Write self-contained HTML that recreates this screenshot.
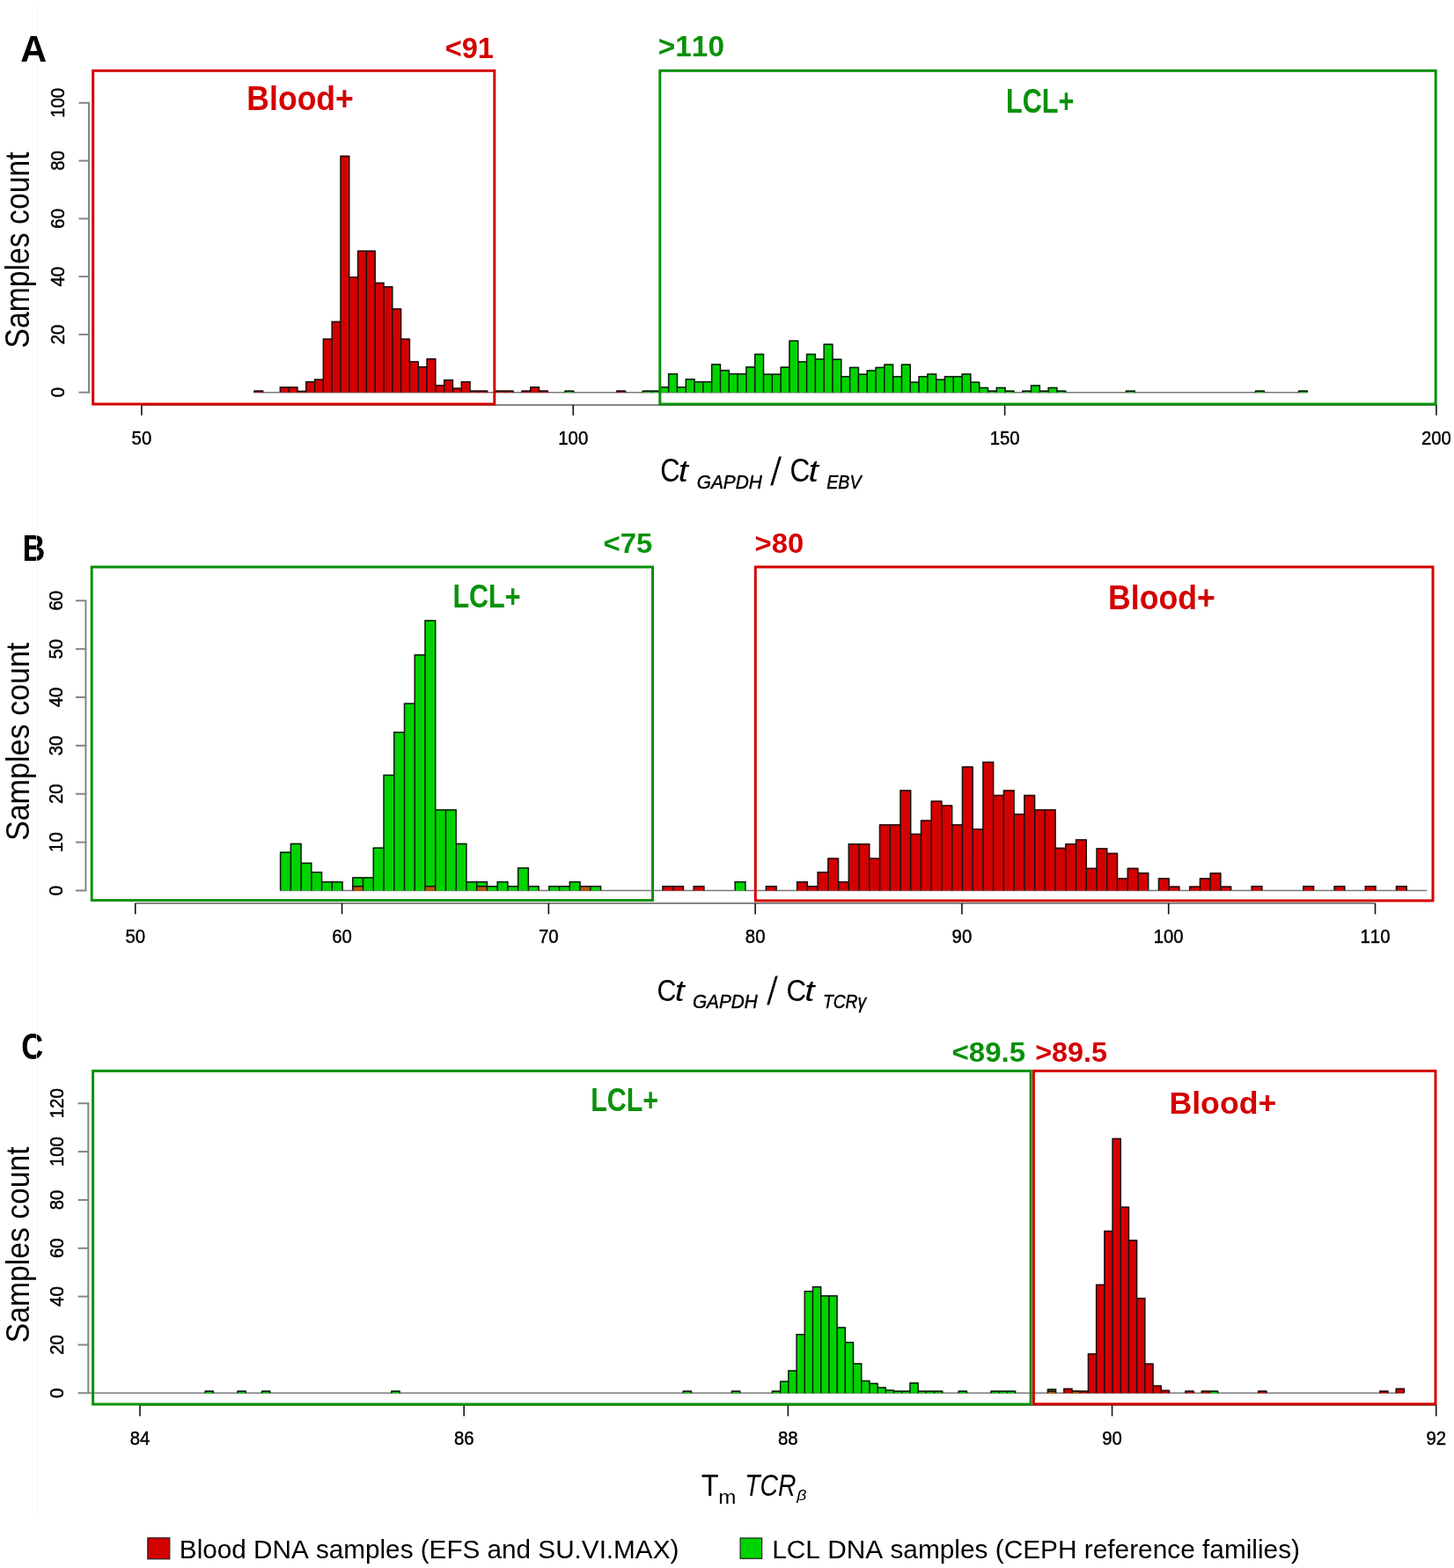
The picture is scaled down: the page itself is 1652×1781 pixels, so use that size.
<!DOCTYPE html>
<html><head><meta charset="utf-8"><title>Figure</title>
<style>html,body{margin:0;padding:0;background:#fff;}svg{display:block;}</style>
</head><body>
<svg width="1652" height="1781" viewBox="0 0 1652 1781">
<rect width="1652" height="1781" fill="#fff"/>
<line x1="42.5" y1="3" x2="42.5" y2="1720" stroke="#f7f7f7" stroke-width="1"/>
<g font-family="'Liberation Sans', Arial, sans-serif" style="font-kerning:none">
<line x1="101" y1="445.7" x2="101" y2="116.8" stroke="#858585" stroke-width="2"/>
<line x1="89.5" y1="445.7" x2="102" y2="445.7" stroke="#858585" stroke-width="2"/>
<line x1="89.5" y1="379.92" x2="102" y2="379.92" stroke="#858585" stroke-width="2"/>
<line x1="89.5" y1="314.14" x2="102" y2="314.14" stroke="#858585" stroke-width="2"/>
<line x1="89.5" y1="248.36" x2="102" y2="248.36" stroke="#858585" stroke-width="2"/>
<line x1="89.5" y1="182.58" x2="102" y2="182.58" stroke="#858585" stroke-width="2"/>
<line x1="89.5" y1="116.8" x2="102" y2="116.8" stroke="#858585" stroke-width="2"/>
<line x1="160.9" y1="460" x2="1631.95" y2="460" stroke="#858585" stroke-width="2"/>
<line x1="160.9" y1="460" x2="160.9" y2="471.8" stroke="#111" stroke-width="1.6"/>
<line x1="651.25" y1="460" x2="651.25" y2="471.8" stroke="#111" stroke-width="1.6"/>
<line x1="1141.6" y1="460" x2="1141.6" y2="471.8" stroke="#111" stroke-width="1.6"/>
<line x1="1631.95" y1="460" x2="1631.95" y2="471.8" stroke="#111" stroke-width="1.6"/>
<line x1="288.39" y1="445.7" x2="1484.85" y2="445.7" stroke="#7a7a7a" stroke-width="1.5"/>
<rect x="641.94" y="443.4" width="9.81" height="2.3" fill="#00d400"/>
<rect x="730.21" y="443.4" width="9.81" height="2.3" fill="#00d400"/>
<rect x="740.01" y="443.4" width="9.81" height="2.3" fill="#00d400"/>
<rect x="749.82" y="439.12" width="9.81" height="6.58" fill="#00d400"/>
<rect x="759.63" y="423.99" width="9.81" height="21.71" fill="#00d400"/>
<rect x="769.43" y="439.12" width="9.81" height="6.58" fill="#00d400"/>
<rect x="779.24" y="430.04" width="9.81" height="15.66" fill="#00d400"/>
<rect x="789.05" y="433" width="9.81" height="12.7" fill="#00d400"/>
<rect x="798.86" y="433" width="9.81" height="12.7" fill="#00d400"/>
<rect x="808.66" y="413.34" width="9.81" height="32.36" fill="#00d400"/>
<rect x="818.47" y="419.91" width="9.81" height="25.79" fill="#00d400"/>
<rect x="828.28" y="423.89" width="9.81" height="21.81" fill="#00d400"/>
<rect x="838.08" y="423.89" width="9.81" height="21.81" fill="#00d400"/>
<rect x="847.89" y="416.3" width="9.81" height="29.4" fill="#00d400"/>
<rect x="857.7" y="401.63" width="9.81" height="44.07" fill="#00d400"/>
<rect x="867.5" y="424.42" width="9.81" height="21.28" fill="#00d400"/>
<rect x="877.31" y="424.42" width="9.81" height="21.28" fill="#00d400"/>
<rect x="887.12" y="416.43" width="9.81" height="29.27" fill="#00d400"/>
<rect x="896.92" y="386.6" width="9.81" height="59.1" fill="#00d400"/>
<rect x="906.73" y="410.18" width="9.81" height="35.52" fill="#00d400"/>
<rect x="916.54" y="401.63" width="9.81" height="44.07" fill="#00d400"/>
<rect x="926.35" y="407.22" width="9.81" height="38.48" fill="#00d400"/>
<rect x="936.15" y="390.44" width="9.81" height="55.26" fill="#00d400"/>
<rect x="945.96" y="407.55" width="9.81" height="38.15" fill="#00d400"/>
<rect x="955.77" y="426.95" width="9.81" height="18.75" fill="#00d400"/>
<rect x="965.57" y="416.76" width="9.81" height="28.94" fill="#00d400"/>
<rect x="975.38" y="424.42" width="9.81" height="21.28" fill="#00d400"/>
<rect x="985.19" y="420.37" width="9.81" height="25.33" fill="#00d400"/>
<rect x="995" y="416.76" width="9.81" height="28.94" fill="#00d400"/>
<rect x="1004.8" y="413.47" width="9.81" height="32.23" fill="#00d400"/>
<rect x="1014.61" y="426.95" width="9.81" height="18.75" fill="#00d400"/>
<rect x="1024.42" y="413.47" width="9.81" height="32.23" fill="#00d400"/>
<rect x="1034.22" y="433.53" width="9.81" height="12.17" fill="#00d400"/>
<rect x="1044.03" y="426.95" width="9.81" height="18.75" fill="#00d400"/>
<rect x="1053.84" y="424.32" width="9.81" height="21.38" fill="#00d400"/>
<rect x="1063.64" y="430.57" width="9.81" height="15.13" fill="#00d400"/>
<rect x="1073.45" y="426.95" width="9.81" height="18.75" fill="#00d400"/>
<rect x="1083.26" y="426.95" width="9.81" height="18.75" fill="#00d400"/>
<rect x="1093.07" y="424.32" width="9.81" height="21.38" fill="#00d400"/>
<rect x="1102.87" y="433.53" width="9.81" height="12.17" fill="#00d400"/>
<rect x="1112.68" y="439.78" width="9.81" height="5.92" fill="#00d400"/>
<rect x="1122.49" y="443.4" width="9.81" height="2.3" fill="#00d400"/>
<rect x="1132.29" y="439.78" width="9.81" height="5.92" fill="#00d400"/>
<rect x="1142.1" y="443.4" width="9.81" height="2.3" fill="#00d400"/>
<rect x="1161.71" y="443.4" width="9.81" height="2.3" fill="#00d400"/>
<rect x="1171.52" y="437.15" width="9.81" height="8.55" fill="#00d400"/>
<rect x="1181.33" y="443.4" width="9.81" height="2.3" fill="#00d400"/>
<rect x="1191.14" y="439.78" width="9.81" height="5.92" fill="#00d400"/>
<rect x="1200.94" y="443.4" width="9.81" height="2.3" fill="#00d400"/>
<rect x="1279.4" y="443.4" width="9.81" height="2.3" fill="#00d400"/>
<rect x="1426.5" y="443.4" width="9.81" height="2.3" fill="#00d400"/>
<rect x="1475.54" y="443.4" width="9.81" height="2.3" fill="#00d400"/>
<rect x="288.89" y="443.4" width="9.81" height="2.3" fill="#d40000"/>
<rect x="318.31" y="439.29" width="9.81" height="6.41" fill="#d40000"/>
<rect x="328.12" y="439.29" width="9.81" height="6.41" fill="#d40000"/>
<rect x="337.93" y="443.73" width="9.81" height="1.97" fill="#d40000"/>
<rect x="347.73" y="433.04" width="9.81" height="12.66" fill="#d40000"/>
<rect x="357.54" y="430.57" width="9.81" height="15.13" fill="#d40000"/>
<rect x="367.35" y="384.52" width="9.81" height="61.18" fill="#d40000"/>
<rect x="377.15" y="364.79" width="9.81" height="80.91" fill="#d40000"/>
<rect x="386.96" y="176.66" width="9.81" height="269.04" fill="#d40000"/>
<rect x="396.77" y="314.14" width="9.81" height="131.56" fill="#d40000"/>
<rect x="406.58" y="284.54" width="9.81" height="161.16" fill="#d40000"/>
<rect x="416.38" y="284.54" width="9.81" height="161.16" fill="#d40000"/>
<rect x="426.19" y="320.72" width="9.81" height="124.98" fill="#d40000"/>
<rect x="436" y="324.99" width="9.81" height="120.71" fill="#d40000"/>
<rect x="445.8" y="350.32" width="9.81" height="95.38" fill="#d40000"/>
<rect x="455.61" y="384.52" width="9.81" height="61.18" fill="#d40000"/>
<rect x="465.42" y="410.18" width="9.81" height="35.52" fill="#d40000"/>
<rect x="475.22" y="416.1" width="9.81" height="29.6" fill="#d40000"/>
<rect x="485.03" y="406.89" width="9.81" height="38.81" fill="#d40000"/>
<rect x="494.84" y="436.98" width="9.81" height="8.72" fill="#d40000"/>
<rect x="504.64" y="430.9" width="9.81" height="14.8" fill="#d40000"/>
<rect x="514.45" y="440.44" width="9.81" height="5.26" fill="#d40000"/>
<rect x="524.26" y="433.04" width="9.81" height="12.66" fill="#d40000"/>
<rect x="534.07" y="443.4" width="9.81" height="2.3" fill="#d40000"/>
<rect x="543.87" y="443.4" width="9.81" height="2.3" fill="#d40000"/>
<rect x="563.49" y="443.4" width="9.81" height="2.3" fill="#d40000"/>
<rect x="573.29" y="443.4" width="9.81" height="2.3" fill="#d40000"/>
<rect x="592.91" y="443.4" width="9.81" height="2.3" fill="#d40000"/>
<rect x="602.72" y="439.12" width="9.81" height="6.58" fill="#d40000"/>
<rect x="612.52" y="443.4" width="9.81" height="2.3" fill="#d40000"/>
<rect x="700.78" y="443.4" width="9.81" height="2.3" fill="#d40000"/>
<path d="M641.94 445.7V444.15H651.75V445.7M730.21 445.7V444.15H740.01V445.7M740.01 445.7V444.15H749.82V445.7M749.82 445.7V439.87H759.63V445.7M759.63 445.7V424.74H769.43V445.7M769.43 445.7V439.87H779.24V445.7M779.24 445.7V430.79H789.05V445.7M789.05 445.7V433.75H798.86V445.7M798.86 445.7V433.75H808.66V445.7M808.66 445.7V414.09H818.47V445.7M818.47 445.7V420.66H828.28V445.7M828.28 445.7V424.64H838.08V445.7M838.08 445.7V424.64H847.89V445.7M847.89 445.7V417.05H857.7V445.7M857.7 445.7V402.38H867.5V445.7M867.5 445.7V425.17H877.31V445.7M877.31 445.7V425.17H887.12V445.7M887.12 445.7V417.18H896.92V445.7M896.92 445.7V387.35H906.73V445.7M906.73 445.7V410.93H916.54V445.7M916.54 445.7V402.38H926.35V445.7M926.35 445.7V407.97H936.15V445.7M936.15 445.7V391.19H945.96V445.7M945.96 445.7V408.3H955.77V445.7M955.77 445.7V427.7H965.57V445.7M965.57 445.7V417.51H975.38V445.7M975.38 445.7V425.17H985.19V445.7M985.19 445.7V421.12H995V445.7M995 445.7V417.51H1004.8V445.7M1004.8 445.7V414.22H1014.61V445.7M1014.61 445.7V427.7H1024.42V445.7M1024.42 445.7V414.22H1034.22V445.7M1034.22 445.7V434.28H1044.03V445.7M1044.03 445.7V427.7H1053.84V445.7M1053.84 445.7V425.07H1063.64V445.7M1063.64 445.7V431.32H1073.45V445.7M1073.45 445.7V427.7H1083.26V445.7M1083.26 445.7V427.7H1093.07V445.7M1093.07 445.7V425.07H1102.87V445.7M1102.87 445.7V434.28H1112.68V445.7M1112.68 445.7V440.53H1122.49V445.7M1122.49 445.7V444.15H1132.29V445.7M1132.29 445.7V440.53H1142.1V445.7M1142.1 445.7V444.15H1151.91V445.7M1161.71 445.7V444.15H1171.52V445.7M1171.52 445.7V437.9H1181.33V445.7M1181.33 445.7V444.15H1191.14V445.7M1191.14 445.7V440.53H1200.94V445.7M1200.94 445.7V444.15H1210.75V445.7M1279.4 445.7V444.15H1289.21V445.7M1426.5 445.7V444.15H1436.31V445.7M1475.54 445.7V444.15H1485.35V445.7M288.89 445.7V444.15H298.7V445.7M318.31 445.7V440.04H328.12V445.7M328.12 445.7V440.04H337.93V445.7M337.93 445.7V444.48H347.73V445.7M347.73 445.7V433.79H357.54V445.7M357.54 445.7V431.32H367.35V445.7M367.35 445.7V385.27H377.15V445.7M377.15 445.7V365.54H386.96V445.7M386.96 445.7V177.41H396.77V445.7M396.77 445.7V314.89H406.58V445.7M406.58 445.7V285.29H416.38V445.7M416.38 445.7V285.29H426.19V445.7M426.19 445.7V321.47H436V445.7M436 445.7V325.74H445.8V445.7M445.8 445.7V351.07H455.61V445.7M455.61 445.7V385.27H465.42V445.7M465.42 445.7V410.93H475.22V445.7M475.22 445.7V416.85H485.03V445.7M485.03 445.7V407.64H494.84V445.7M494.84 445.7V437.73H504.64V445.7M504.64 445.7V431.65H514.45V445.7M514.45 445.7V441.19H524.26V445.7M524.26 445.7V433.79H534.07V445.7M534.07 445.7V444.15H543.87V445.7M543.87 445.7V444.15H553.68V445.7M563.49 445.7V444.15H573.29V445.7M573.29 445.7V444.15H583.1V445.7M592.91 445.7V444.15H602.72V445.7M602.72 445.7V439.87H612.52V445.7M612.52 445.7V444.15H622.33V445.7M700.78 445.7V444.15H710.59V445.7" fill="none" stroke="#141414" stroke-width="1.5"/>
<text transform="translate(160.9,505.2) scale(0.895,1)" font-size="22.7" stroke="#000" stroke-width="0.45" text-anchor="middle">50</text>
<text transform="translate(651.25,505.2) scale(0.895,1)" font-size="22.7" stroke="#000" stroke-width="0.45" text-anchor="middle">100</text>
<text transform="translate(1141.6,505.2) scale(0.895,1)" font-size="22.7" stroke="#000" stroke-width="0.45" text-anchor="middle">150</text>
<text transform="translate(1631.95,505.2) scale(0.895,1)" font-size="22.7" stroke="#000" stroke-width="0.45" text-anchor="middle">200</text>
<text transform="translate(72.8,445.7) rotate(-90) scale(0.895,1)" font-size="22.7" stroke="#000" stroke-width="0.45" text-anchor="middle">0</text>
<text transform="translate(72.8,379.92) rotate(-90) scale(0.895,1)" font-size="22.7" stroke="#000" stroke-width="0.45" text-anchor="middle">20</text>
<text transform="translate(72.8,314.14) rotate(-90) scale(0.895,1)" font-size="22.7" stroke="#000" stroke-width="0.45" text-anchor="middle">40</text>
<text transform="translate(72.8,248.36) rotate(-90) scale(0.895,1)" font-size="22.7" stroke="#000" stroke-width="0.45" text-anchor="middle">60</text>
<text transform="translate(72.8,182.58) rotate(-90) scale(0.895,1)" font-size="22.7" stroke="#000" stroke-width="0.45" text-anchor="middle">80</text>
<text transform="translate(72.8,116.8) rotate(-90) scale(0.895,1)" font-size="22.7" stroke="#000" stroke-width="0.45" text-anchor="middle">100</text>
<line x1="97.4" y1="1011.5" x2="97.4" y2="682.28" stroke="#858585" stroke-width="2"/>
<line x1="86" y1="1011.5" x2="98.4" y2="1011.5" stroke="#858585" stroke-width="2"/>
<line x1="86" y1="956.63" x2="98.4" y2="956.63" stroke="#858585" stroke-width="2"/>
<line x1="86" y1="901.76" x2="98.4" y2="901.76" stroke="#858585" stroke-width="2"/>
<line x1="86" y1="846.89" x2="98.4" y2="846.89" stroke="#858585" stroke-width="2"/>
<line x1="86" y1="792.02" x2="98.4" y2="792.02" stroke="#858585" stroke-width="2"/>
<line x1="86" y1="737.15" x2="98.4" y2="737.15" stroke="#858585" stroke-width="2"/>
<line x1="86" y1="682.28" x2="98.4" y2="682.28" stroke="#858585" stroke-width="2"/>
<line x1="153.75" y1="1026" x2="1562.49" y2="1026" stroke="#858585" stroke-width="2"/>
<line x1="153.75" y1="1026" x2="153.75" y2="1038.4" stroke="#111" stroke-width="1.6"/>
<line x1="388.54" y1="1026" x2="388.54" y2="1038.4" stroke="#111" stroke-width="1.6"/>
<line x1="623.33" y1="1026" x2="623.33" y2="1038.4" stroke="#111" stroke-width="1.6"/>
<line x1="858.12" y1="1026" x2="858.12" y2="1038.4" stroke="#111" stroke-width="1.6"/>
<line x1="1092.91" y1="1026" x2="1092.91" y2="1038.4" stroke="#111" stroke-width="1.6"/>
<line x1="1327.7" y1="1026" x2="1327.7" y2="1038.4" stroke="#111" stroke-width="1.6"/>
<line x1="1562.49" y1="1026" x2="1562.49" y2="1038.4" stroke="#111" stroke-width="1.6"/>
<line x1="318.1" y1="1011.5" x2="1621.19" y2="1011.5" stroke="#7a7a7a" stroke-width="1.5"/>
<rect x="318.6" y="967.38" width="11.74" height="44.12" fill="#00d400"/>
<rect x="330.34" y="957.73" width="11.74" height="53.77" fill="#00d400"/>
<rect x="342.08" y="979.68" width="11.74" height="31.82" fill="#00d400"/>
<rect x="353.82" y="990.1" width="11.74" height="21.4" fill="#00d400"/>
<rect x="365.56" y="1001.07" width="11.74" height="10.43" fill="#00d400"/>
<rect x="377.3" y="1001.07" width="11.74" height="10.43" fill="#00d400"/>
<rect x="400.78" y="996.14" width="11.74" height="15.36" fill="#00d400"/>
<rect x="412.52" y="996.14" width="11.74" height="15.36" fill="#00d400"/>
<rect x="424.26" y="962.39" width="11.74" height="49.11" fill="#00d400"/>
<rect x="436" y="879.81" width="11.74" height="131.69" fill="#00d400"/>
<rect x="447.74" y="830.98" width="11.74" height="180.52" fill="#00d400"/>
<rect x="459.48" y="798.6" width="11.74" height="212.9" fill="#00d400"/>
<rect x="471.22" y="743.19" width="11.74" height="268.31" fill="#00d400"/>
<rect x="482.96" y="704.23" width="11.74" height="307.27" fill="#00d400"/>
<rect x="494.7" y="919.32" width="11.74" height="92.18" fill="#00d400"/>
<rect x="506.44" y="919.32" width="11.74" height="92.18" fill="#00d400"/>
<rect x="518.17" y="957.73" width="11.74" height="53.77" fill="#00d400"/>
<rect x="529.91" y="1001.07" width="11.74" height="10.43" fill="#00d400"/>
<rect x="541.65" y="1001.07" width="11.74" height="10.43" fill="#00d400"/>
<rect x="553.39" y="1006.01" width="11.74" height="5.49" fill="#00d400"/>
<rect x="565.13" y="1001.07" width="11.74" height="10.43" fill="#00d400"/>
<rect x="576.87" y="1006.01" width="11.74" height="5.49" fill="#00d400"/>
<rect x="588.61" y="985.16" width="11.74" height="26.34" fill="#00d400"/>
<rect x="600.35" y="1006.01" width="11.74" height="5.49" fill="#00d400"/>
<rect x="623.83" y="1006.01" width="11.74" height="5.49" fill="#00d400"/>
<rect x="635.57" y="1006.01" width="11.74" height="5.49" fill="#00d400"/>
<rect x="647.31" y="1001.07" width="11.74" height="10.43" fill="#00d400"/>
<rect x="659.05" y="1006.01" width="11.74" height="5.49" fill="#00d400"/>
<rect x="670.79" y="1006.01" width="11.74" height="5.49" fill="#00d400"/>
<rect x="835.14" y="1001.07" width="11.74" height="10.43" fill="#00d400"/>
<rect x="400.78" y="1006.01" width="11.74" height="5.49" fill="#d40000"/>
<rect x="482.96" y="1006.01" width="11.74" height="5.49" fill="#d40000"/>
<rect x="541.65" y="1006.01" width="11.74" height="5.49" fill="#d40000"/>
<rect x="659.05" y="1006.01" width="11.74" height="5.49" fill="#d40000"/>
<rect x="752.96" y="1006.01" width="11.74" height="5.49" fill="#d40000"/>
<rect x="764.7" y="1006.01" width="11.74" height="5.49" fill="#d40000"/>
<rect x="788.18" y="1006.01" width="11.74" height="5.49" fill="#d40000"/>
<rect x="870.36" y="1006.01" width="11.74" height="5.49" fill="#d40000"/>
<rect x="905.58" y="1001.07" width="11.74" height="10.43" fill="#d40000"/>
<rect x="917.32" y="1006.01" width="11.74" height="5.49" fill="#d40000"/>
<rect x="929.06" y="990.1" width="11.74" height="21.4" fill="#d40000"/>
<rect x="940.8" y="974.52" width="11.74" height="36.98" fill="#d40000"/>
<rect x="952.54" y="1001.07" width="11.74" height="10.43" fill="#d40000"/>
<rect x="964.28" y="958" width="11.74" height="53.5" fill="#d40000"/>
<rect x="976.01" y="958" width="11.74" height="53.5" fill="#d40000"/>
<rect x="987.75" y="974.52" width="11.74" height="36.98" fill="#d40000"/>
<rect x="999.49" y="936.33" width="11.74" height="75.17" fill="#d40000"/>
<rect x="1011.23" y="936.33" width="11.74" height="75.17" fill="#d40000"/>
<rect x="1022.97" y="897.37" width="11.74" height="114.13" fill="#d40000"/>
<rect x="1034.71" y="946.75" width="11.74" height="64.75" fill="#d40000"/>
<rect x="1046.45" y="931.39" width="11.74" height="80.11" fill="#d40000"/>
<rect x="1058.19" y="909.44" width="11.74" height="102.06" fill="#d40000"/>
<rect x="1069.93" y="914.38" width="11.74" height="97.12" fill="#d40000"/>
<rect x="1081.67" y="936.33" width="11.74" height="75.17" fill="#d40000"/>
<rect x="1093.41" y="870.48" width="11.74" height="141.02" fill="#d40000"/>
<rect x="1105.15" y="941.27" width="11.74" height="70.23" fill="#d40000"/>
<rect x="1116.89" y="865" width="11.74" height="146.5" fill="#d40000"/>
<rect x="1128.63" y="902.86" width="11.74" height="108.64" fill="#d40000"/>
<rect x="1140.37" y="897.37" width="11.74" height="114.13" fill="#d40000"/>
<rect x="1152.11" y="924.26" width="11.74" height="87.24" fill="#d40000"/>
<rect x="1163.85" y="902.86" width="11.74" height="108.64" fill="#d40000"/>
<rect x="1175.59" y="919.32" width="11.74" height="92.18" fill="#d40000"/>
<rect x="1187.33" y="919.32" width="11.74" height="92.18" fill="#d40000"/>
<rect x="1199.07" y="962.67" width="11.74" height="48.83" fill="#d40000"/>
<rect x="1210.81" y="958" width="11.74" height="53.5" fill="#d40000"/>
<rect x="1222.54" y="953.34" width="11.74" height="58.16" fill="#d40000"/>
<rect x="1234.28" y="985.71" width="11.74" height="25.79" fill="#d40000"/>
<rect x="1246.02" y="963.21" width="11.74" height="48.29" fill="#d40000"/>
<rect x="1257.76" y="968.7" width="11.74" height="42.8" fill="#d40000"/>
<rect x="1269.5" y="997.23" width="11.74" height="14.27" fill="#d40000"/>
<rect x="1281.24" y="985.71" width="11.74" height="25.79" fill="#d40000"/>
<rect x="1292.98" y="990.92" width="11.74" height="20.58" fill="#d40000"/>
<rect x="1316.46" y="997.23" width="11.74" height="14.27" fill="#d40000"/>
<rect x="1328.2" y="1006.56" width="11.74" height="4.94" fill="#d40000"/>
<rect x="1351.68" y="1006.56" width="11.74" height="4.94" fill="#d40000"/>
<rect x="1363.42" y="997.23" width="11.74" height="14.27" fill="#d40000"/>
<rect x="1375.16" y="991.2" width="11.74" height="20.3" fill="#d40000"/>
<rect x="1386.9" y="1006.56" width="11.74" height="4.94" fill="#d40000"/>
<rect x="1422.12" y="1006.01" width="11.74" height="5.49" fill="#d40000"/>
<rect x="1480.81" y="1006.01" width="11.74" height="5.49" fill="#d40000"/>
<rect x="1516.03" y="1006.01" width="11.74" height="5.49" fill="#d40000"/>
<rect x="1551.25" y="1006.01" width="11.74" height="5.49" fill="#d40000"/>
<rect x="1586.47" y="1006.01" width="11.74" height="5.49" fill="#d40000"/>
<rect x="400.78" y="1006.01" width="11.74" height="5.49" fill="#b45a08"/>
<rect x="482.96" y="1006.01" width="11.74" height="5.49" fill="#b45a08"/>
<rect x="541.65" y="1006.01" width="11.74" height="5.49" fill="#b45a08"/>
<rect x="659.05" y="1006.01" width="11.74" height="5.49" fill="#b45a08"/>
<path d="M318.6 1011.5V968.13H330.34V1011.5M330.34 1011.5V958.48H342.08V1011.5M342.08 1011.5V980.43H353.82V1011.5M353.82 1011.5V990.85H365.56V1011.5M365.56 1011.5V1001.82H377.3V1011.5M377.3 1011.5V1001.82H389.04V1011.5M400.78 1011.5V996.89H412.52V1011.5M412.52 1011.5V996.89H424.26V1011.5M424.26 1011.5V963.14H436V1011.5M436 1011.5V880.56H447.74V1011.5M447.74 1011.5V831.73H459.48V1011.5M459.48 1011.5V799.35H471.22V1011.5M471.22 1011.5V743.94H482.96V1011.5M482.96 1011.5V704.98H494.7V1011.5M494.7 1011.5V920.07H506.44V1011.5M506.44 1011.5V920.07H518.17V1011.5M518.17 1011.5V958.48H529.91V1011.5M529.91 1011.5V1001.82H541.65V1011.5M541.65 1011.5V1001.82H553.39V1011.5M553.39 1011.5V1006.76H565.13V1011.5M565.13 1011.5V1001.82H576.87V1011.5M576.87 1011.5V1006.76H588.61V1011.5M588.61 1011.5V985.91H600.35V1011.5M600.35 1011.5V1006.76H612.09V1011.5M623.83 1011.5V1006.76H635.57V1011.5M635.57 1011.5V1006.76H647.31V1011.5M647.31 1011.5V1001.82H659.05V1011.5M659.05 1011.5V1006.76H670.79V1011.5M670.79 1011.5V1006.76H682.53V1011.5M835.14 1011.5V1001.82H846.88V1011.5M400.78 1011.5V1006.76H412.52V1011.5M482.96 1011.5V1006.76H494.7V1011.5M541.65 1011.5V1006.76H553.39V1011.5M659.05 1011.5V1006.76H670.79V1011.5M752.96 1011.5V1006.76H764.7V1011.5M764.7 1011.5V1006.76H776.44V1011.5M788.18 1011.5V1006.76H799.92V1011.5M870.36 1011.5V1006.76H882.1V1011.5M905.58 1011.5V1001.82H917.32V1011.5M917.32 1011.5V1006.76H929.06V1011.5M929.06 1011.5V990.85H940.8V1011.5M940.8 1011.5V975.27H952.54V1011.5M952.54 1011.5V1001.82H964.28V1011.5M964.28 1011.5V958.75H976.01V1011.5M976.01 1011.5V958.75H987.75V1011.5M987.75 1011.5V975.27H999.49V1011.5M999.49 1011.5V937.08H1011.23V1011.5M1011.23 1011.5V937.08H1022.97V1011.5M1022.97 1011.5V898.12H1034.71V1011.5M1034.71 1011.5V947.5H1046.45V1011.5M1046.45 1011.5V932.14H1058.19V1011.5M1058.19 1011.5V910.19H1069.93V1011.5M1069.93 1011.5V915.13H1081.67V1011.5M1081.67 1011.5V937.08H1093.41V1011.5M1093.41 1011.5V871.23H1105.15V1011.5M1105.15 1011.5V942.02H1116.89V1011.5M1116.89 1011.5V865.75H1128.63V1011.5M1128.63 1011.5V903.61H1140.37V1011.5M1140.37 1011.5V898.12H1152.11V1011.5M1152.11 1011.5V925.01H1163.85V1011.5M1163.85 1011.5V903.61H1175.59V1011.5M1175.59 1011.5V920.07H1187.33V1011.5M1187.33 1011.5V920.07H1199.07V1011.5M1199.07 1011.5V963.42H1210.81V1011.5M1210.81 1011.5V958.75H1222.54V1011.5M1222.54 1011.5V954.09H1234.28V1011.5M1234.28 1011.5V986.46H1246.02V1011.5M1246.02 1011.5V963.96H1257.76V1011.5M1257.76 1011.5V969.45H1269.5V1011.5M1269.5 1011.5V997.98H1281.24V1011.5M1281.24 1011.5V986.46H1292.98V1011.5M1292.98 1011.5V991.67H1304.72V1011.5M1316.46 1011.5V997.98H1328.2V1011.5M1328.2 1011.5V1007.31H1339.94V1011.5M1351.68 1011.5V1007.31H1363.42V1011.5M1363.42 1011.5V997.98H1375.16V1011.5M1375.16 1011.5V991.95H1386.9V1011.5M1386.9 1011.5V1007.31H1398.64V1011.5M1422.12 1011.5V1006.76H1433.86V1011.5M1480.81 1011.5V1006.76H1492.55V1011.5M1516.03 1011.5V1006.76H1527.77V1011.5M1551.25 1011.5V1006.76H1562.99V1011.5M1586.47 1011.5V1006.76H1598.21V1011.5" fill="none" stroke="#141414" stroke-width="1.5"/>
<text transform="translate(153.75,1070.7) scale(0.895,1)" font-size="22.7" stroke="#000" stroke-width="0.45" text-anchor="middle">50</text>
<text transform="translate(388.54,1070.7) scale(0.895,1)" font-size="22.7" stroke="#000" stroke-width="0.45" text-anchor="middle">60</text>
<text transform="translate(623.33,1070.7) scale(0.895,1)" font-size="22.7" stroke="#000" stroke-width="0.45" text-anchor="middle">70</text>
<text transform="translate(858.12,1070.7) scale(0.895,1)" font-size="22.7" stroke="#000" stroke-width="0.45" text-anchor="middle">80</text>
<text transform="translate(1092.91,1070.7) scale(0.895,1)" font-size="22.7" stroke="#000" stroke-width="0.45" text-anchor="middle">90</text>
<text transform="translate(1327.7,1070.7) scale(0.895,1)" font-size="22.7" stroke="#000" stroke-width="0.45" text-anchor="middle">100</text>
<text transform="translate(1562.49,1070.7) scale(0.895,1)" font-size="22.7" stroke="#000" stroke-width="0.45" text-anchor="middle">110</text>
<text transform="translate(70.7,1011.5) rotate(-90) scale(0.895,1)" font-size="22.7" stroke="#000" stroke-width="0.45" text-anchor="middle">0</text>
<text transform="translate(70.7,956.63) rotate(-90) scale(0.895,1)" font-size="22.7" stroke="#000" stroke-width="0.45" text-anchor="middle">10</text>
<text transform="translate(70.7,901.76) rotate(-90) scale(0.895,1)" font-size="22.7" stroke="#000" stroke-width="0.45" text-anchor="middle">20</text>
<text transform="translate(70.7,846.89) rotate(-90) scale(0.895,1)" font-size="22.7" stroke="#000" stroke-width="0.45" text-anchor="middle">30</text>
<text transform="translate(70.7,792.02) rotate(-90) scale(0.895,1)" font-size="22.7" stroke="#000" stroke-width="0.45" text-anchor="middle">40</text>
<text transform="translate(70.7,737.15) rotate(-90) scale(0.895,1)" font-size="22.7" stroke="#000" stroke-width="0.45" text-anchor="middle">50</text>
<text transform="translate(70.7,682.28) rotate(-90) scale(0.895,1)" font-size="22.7" stroke="#000" stroke-width="0.45" text-anchor="middle">60</text>
<line x1="100.3" y1="1582.3" x2="100.3" y2="1253.26" stroke="#858585" stroke-width="2"/>
<line x1="88.6" y1="1582.3" x2="101.3" y2="1582.3" stroke="#858585" stroke-width="2"/>
<line x1="88.6" y1="1527.46" x2="101.3" y2="1527.46" stroke="#858585" stroke-width="2"/>
<line x1="88.6" y1="1472.62" x2="101.3" y2="1472.62" stroke="#858585" stroke-width="2"/>
<line x1="88.6" y1="1417.78" x2="101.3" y2="1417.78" stroke="#858585" stroke-width="2"/>
<line x1="88.6" y1="1362.94" x2="101.3" y2="1362.94" stroke="#858585" stroke-width="2"/>
<line x1="88.6" y1="1308.1" x2="101.3" y2="1308.1" stroke="#858585" stroke-width="2"/>
<line x1="88.6" y1="1253.26" x2="101.3" y2="1253.26" stroke="#858585" stroke-width="2"/>
<line x1="159" y1="1596" x2="1631.72" y2="1596" stroke="#858585" stroke-width="2"/>
<line x1="159" y1="1596" x2="159" y2="1608.5" stroke="#111" stroke-width="1.6"/>
<line x1="527.18" y1="1596" x2="527.18" y2="1608.5" stroke="#111" stroke-width="1.6"/>
<line x1="895.36" y1="1596" x2="895.36" y2="1608.5" stroke="#111" stroke-width="1.6"/>
<line x1="1263.54" y1="1596" x2="1263.54" y2="1608.5" stroke="#111" stroke-width="1.6"/>
<line x1="1631.72" y1="1596" x2="1631.72" y2="1608.5" stroke="#111" stroke-width="1.6"/>
<line x1="100.3" y1="1582.3" x2="1594.9" y2="1582.3" stroke="#7a7a7a" stroke-width="1.5"/>
<rect x="233.14" y="1579.56" width="9.2" height="2.74" fill="#00d400"/>
<rect x="269.95" y="1579.56" width="9.2" height="2.74" fill="#00d400"/>
<rect x="297.57" y="1579.56" width="9.2" height="2.74" fill="#00d400"/>
<rect x="444.84" y="1579.56" width="9.2" height="2.74" fill="#00d400"/>
<rect x="776.2" y="1579.56" width="9.2" height="2.74" fill="#00d400"/>
<rect x="831.43" y="1579.56" width="9.2" height="2.74" fill="#00d400"/>
<rect x="877.45" y="1579.56" width="9.2" height="2.74" fill="#00d400"/>
<rect x="886.66" y="1568.59" width="9.2" height="13.71" fill="#00d400"/>
<rect x="895.86" y="1556.25" width="9.2" height="26.05" fill="#00d400"/>
<rect x="905.06" y="1515.12" width="9.2" height="67.18" fill="#00d400"/>
<rect x="914.27" y="1466.04" width="9.2" height="116.26" fill="#00d400"/>
<rect x="923.47" y="1461.1" width="9.2" height="121.2" fill="#00d400"/>
<rect x="932.68" y="1471.25" width="9.2" height="111.05" fill="#00d400"/>
<rect x="941.88" y="1471.25" width="9.2" height="111.05" fill="#00d400"/>
<rect x="951.09" y="1507.17" width="9.2" height="75.13" fill="#00d400"/>
<rect x="960.29" y="1523.9" width="9.2" height="58.4" fill="#00d400"/>
<rect x="969.5" y="1548.3" width="9.2" height="34" fill="#00d400"/>
<rect x="978.7" y="1567.77" width="9.2" height="14.53" fill="#00d400"/>
<rect x="987.9" y="1570.78" width="9.2" height="11.52" fill="#00d400"/>
<rect x="997.11" y="1575.44" width="9.2" height="6.86" fill="#00d400"/>
<rect x="1006.31" y="1578.46" width="9.2" height="3.84" fill="#00d400"/>
<rect x="1015.52" y="1579.56" width="9.2" height="2.74" fill="#00d400"/>
<rect x="1024.72" y="1579.56" width="9.2" height="2.74" fill="#00d400"/>
<rect x="1033.93" y="1570.24" width="9.2" height="12.06" fill="#00d400"/>
<rect x="1043.13" y="1579.56" width="9.2" height="2.74" fill="#00d400"/>
<rect x="1052.34" y="1579.56" width="9.2" height="2.74" fill="#00d400"/>
<rect x="1061.54" y="1579.56" width="9.2" height="2.74" fill="#00d400"/>
<rect x="1089.15" y="1579.56" width="9.2" height="2.74" fill="#00d400"/>
<rect x="1125.97" y="1579.56" width="9.2" height="2.74" fill="#00d400"/>
<rect x="1135.18" y="1579.56" width="9.2" height="2.74" fill="#00d400"/>
<rect x="1144.38" y="1579.56" width="9.2" height="2.74" fill="#00d400"/>
<rect x="1190.4" y="1577.5" width="9.2" height="4.8" fill="#00d400"/>
<rect x="1218.02" y="1579.56" width="9.2" height="2.74" fill="#00d400"/>
<rect x="1374.49" y="1579.56" width="9.2" height="2.74" fill="#00d400"/>
<rect x="1190.4" y="1579.56" width="9.2" height="2.74" fill="#d40000"/>
<rect x="1208.81" y="1576.82" width="9.2" height="5.48" fill="#d40000"/>
<rect x="1218.02" y="1579.56" width="9.2" height="2.74" fill="#d40000"/>
<rect x="1227.22" y="1579.56" width="9.2" height="2.74" fill="#d40000"/>
<rect x="1236.43" y="1537.33" width="9.2" height="44.97" fill="#d40000"/>
<rect x="1245.63" y="1458.64" width="9.2" height="123.66" fill="#d40000"/>
<rect x="1254.84" y="1397.76" width="9.2" height="184.54" fill="#d40000"/>
<rect x="1264.04" y="1292.74" width="9.2" height="289.56" fill="#d40000"/>
<rect x="1273.24" y="1370.62" width="9.2" height="211.68" fill="#d40000"/>
<rect x="1282.45" y="1408.18" width="9.2" height="174.12" fill="#d40000"/>
<rect x="1291.65" y="1473.99" width="9.2" height="108.31" fill="#d40000"/>
<rect x="1300.86" y="1548.57" width="9.2" height="33.73" fill="#d40000"/>
<rect x="1310.06" y="1573.53" width="9.2" height="8.77" fill="#d40000"/>
<rect x="1319.27" y="1578.74" width="9.2" height="3.56" fill="#d40000"/>
<rect x="1346.88" y="1579.56" width="9.2" height="2.74" fill="#d40000"/>
<rect x="1365.29" y="1579.56" width="9.2" height="2.74" fill="#d40000"/>
<rect x="1429.72" y="1579.56" width="9.2" height="2.74" fill="#d40000"/>
<rect x="1567.79" y="1579.56" width="9.2" height="2.74" fill="#d40000"/>
<rect x="1586.2" y="1576.82" width="9.2" height="5.48" fill="#d40000"/>
<rect x="1190.4" y="1579.56" width="9.2" height="2.74" fill="#b45a08"/>
<rect x="1218.02" y="1579.56" width="9.2" height="2.74" fill="#b45a08"/>
<path d="M233.14 1582.3V1580.31H242.34V1582.3M269.95 1582.3V1580.31H279.16V1582.3M297.57 1582.3V1580.31H306.77V1582.3M444.84 1582.3V1580.31H454.04V1582.3M776.2 1582.3V1580.31H785.41V1582.3M831.43 1582.3V1580.31H840.63V1582.3M877.45 1582.3V1580.31H886.66V1582.3M886.66 1582.3V1569.34H895.86V1582.3M895.86 1582.3V1557H905.06V1582.3M905.06 1582.3V1515.87H914.27V1582.3M914.27 1582.3V1466.79H923.47V1582.3M923.47 1582.3V1461.85H932.68V1582.3M932.68 1582.3V1472H941.88V1582.3M941.88 1582.3V1472H951.09V1582.3M951.09 1582.3V1507.92H960.29V1582.3M960.29 1582.3V1524.65H969.5V1582.3M969.5 1582.3V1549.05H978.7V1582.3M978.7 1582.3V1568.52H987.9V1582.3M987.9 1582.3V1571.53H997.11V1582.3M997.11 1582.3V1576.19H1006.31V1582.3M1006.31 1582.3V1579.21H1015.52V1582.3M1015.52 1582.3V1580.31H1024.72V1582.3M1024.72 1582.3V1580.31H1033.93V1582.3M1033.93 1582.3V1570.99H1043.13V1582.3M1043.13 1582.3V1580.31H1052.34V1582.3M1052.34 1582.3V1580.31H1061.54V1582.3M1061.54 1582.3V1580.31H1070.75V1582.3M1089.15 1582.3V1580.31H1098.36V1582.3M1125.97 1582.3V1580.31H1135.18V1582.3M1135.18 1582.3V1580.31H1144.38V1582.3M1144.38 1582.3V1580.31H1153.59V1582.3M1190.4 1582.3V1578.25H1199.61V1582.3M1218.02 1582.3V1580.31H1227.22V1582.3M1374.49 1582.3V1580.31H1383.7V1582.3M1190.4 1582.3V1580.31H1199.61V1582.3M1208.81 1582.3V1577.57H1218.02V1582.3M1218.02 1582.3V1580.31H1227.22V1582.3M1227.22 1582.3V1580.31H1236.43V1582.3M1236.43 1582.3V1538.08H1245.63V1582.3M1245.63 1582.3V1459.39H1254.84V1582.3M1254.84 1582.3V1398.51H1264.04V1582.3M1264.04 1582.3V1293.49H1273.24V1582.3M1273.24 1582.3V1371.37H1282.45V1582.3M1282.45 1582.3V1408.93H1291.65V1582.3M1291.65 1582.3V1474.74H1300.86V1582.3M1300.86 1582.3V1549.32H1310.06V1582.3M1310.06 1582.3V1574.28H1319.27V1582.3M1319.27 1582.3V1579.49H1328.47V1582.3M1346.88 1582.3V1580.31H1356.09V1582.3M1365.29 1582.3V1580.31H1374.49V1582.3M1429.72 1582.3V1580.31H1438.93V1582.3M1567.79 1582.3V1580.31H1576.99V1582.3M1586.2 1582.3V1577.57H1595.4V1582.3" fill="none" stroke="#141414" stroke-width="1.5"/>
<text transform="translate(159,1641) scale(0.895,1)" font-size="22.7" stroke="#000" stroke-width="0.45" text-anchor="middle">84</text>
<text transform="translate(527.18,1641) scale(0.895,1)" font-size="22.7" stroke="#000" stroke-width="0.45" text-anchor="middle">86</text>
<text transform="translate(895.36,1641) scale(0.895,1)" font-size="22.7" stroke="#000" stroke-width="0.45" text-anchor="middle">88</text>
<text transform="translate(1263.54,1641) scale(0.895,1)" font-size="22.7" stroke="#000" stroke-width="0.45" text-anchor="middle">90</text>
<text transform="translate(1631.72,1641) scale(0.895,1)" font-size="22.7" stroke="#000" stroke-width="0.45" text-anchor="middle">92</text>
<text transform="translate(71.7,1582.3) rotate(-90) scale(0.895,1)" font-size="22.7" stroke="#000" stroke-width="0.45" text-anchor="middle">0</text>
<text transform="translate(71.7,1527.46) rotate(-90) scale(0.895,1)" font-size="22.7" stroke="#000" stroke-width="0.45" text-anchor="middle">20</text>
<text transform="translate(71.7,1472.62) rotate(-90) scale(0.895,1)" font-size="22.7" stroke="#000" stroke-width="0.45" text-anchor="middle">40</text>
<text transform="translate(71.7,1417.78) rotate(-90) scale(0.895,1)" font-size="22.7" stroke="#000" stroke-width="0.45" text-anchor="middle">60</text>
<text transform="translate(71.7,1362.94) rotate(-90) scale(0.895,1)" font-size="22.7" stroke="#000" stroke-width="0.45" text-anchor="middle">80</text>
<text transform="translate(71.7,1308.1) rotate(-90) scale(0.895,1)" font-size="22.7" stroke="#000" stroke-width="0.45" text-anchor="middle">100</text>
<text transform="translate(71.7,1253.26) rotate(-90) scale(0.895,1)" font-size="22.7" stroke="#000" stroke-width="0.45" text-anchor="middle">120</text>
<rect x="105.7" y="80.3" width="456.1" height="378.7" fill="none" stroke="#d40000" stroke-width="3"/>
<rect x="749.8" y="80.3" width="881.4" height="378.7" fill="none" stroke="#0a900a" stroke-width="3"/>
<rect x="104.2" y="644" width="637.3" height="378.6" fill="none" stroke="#0a900a" stroke-width="3"/>
<rect x="858.3" y="644" width="769.7" height="379" fill="none" stroke="#d40000" stroke-width="3"/>
<rect x="105.6" y="1216.4" width="1065.5" height="378.6" fill="none" stroke="#0a900a" stroke-width="3"/>
<rect x="1174.4" y="1216.4" width="456.6" height="378.4" fill="none" stroke="#d40000" stroke-width="3"/>
<text transform="translate(23.17,70.2) scale(0.9631,1)" font-size="43.02" font-weight="bold" font-style="normal" fill="#000">A</text>
<text transform="translate(25.61,637.4) scale(0.8280,1)" font-size="43.17" font-weight="bold" font-style="normal" fill="#000">B</text>
<text transform="translate(24.28,1203.3) scale(0.8099,1)" font-size="42.68" font-weight="bold" font-style="normal" fill="#000">C</text>
<text transform="translate(505.73,66) scale(0.9874,1)" font-size="32.94" font-weight="bold" font-style="normal" fill="#d40000">&lt;91</text>
<text transform="translate(747.8,63.7) scale(0.9983,1)" font-size="33.43" font-weight="bold" font-style="normal" fill="#0a910a">&gt;110</text>
<text transform="translate(685.52,628) scale(1.0457,1)" font-size="31.4" font-weight="bold" font-style="normal" fill="#0a910a">&lt;75</text>
<text transform="translate(857.62,628) scale(1.0600,1)" font-size="30.93" font-weight="bold" font-style="normal" fill="#d40000">&gt;80</text>
<text transform="translate(1081.51,1205.6) scale(1.0681,1)" font-size="30.93" font-weight="bold" font-style="normal" fill="#0a910a">&lt;89.5</text>
<text transform="translate(1176.14,1205.6) scale(1.0445,1)" font-size="30.93" font-weight="bold" font-style="normal" fill="#d40000">&gt;89.5</text>
<text transform="translate(280.32,124.7) scale(0.9173,1)" font-size="38.81" font-weight="bold" font-style="normal" fill="#d40000">Blood+</text>
<text transform="translate(1142.95,128.3) scale(0.8019,1)" font-size="38.23" font-weight="bold" font-style="normal" fill="#0a910a">LCL+</text>
<text transform="translate(514.46,690.3) scale(0.8291,1)" font-size="36.77" font-weight="bold" font-style="normal" fill="#0a910a">LCL+</text>
<text transform="translate(1259.11,692.1) scale(0.9293,1)" font-size="38.37" font-weight="bold" font-style="normal" fill="#d40000">Blood+</text>
<text transform="translate(671.16,1262.4) scale(0.8120,1)" font-size="37.5" font-weight="bold" font-style="normal" fill="#0a910a">LCL+</text>
<text transform="translate(1328.41,1265.3) scale(1.0197,1)" font-size="35.03" font-weight="bold" font-style="normal" fill="#d40000">Blood+</text>
<text transform="translate(32.5,395.53) rotate(-90) scale(0.8790,1)" font-size="38.38" font-weight="normal" font-style="normal" fill="#000">Samples count</text>
<text transform="translate(32.9,955.05) rotate(-90) scale(0.9085,1)" font-size="37.52" font-weight="normal" font-style="normal" fill="#000">Samples count</text>
<text transform="translate(32.9,1525.33) rotate(-90) scale(0.8984,1)" font-size="37.52" font-weight="normal" font-style="normal" fill="#000">Samples count</text>
<text transform="translate(750.23,547) scale(0.8545,1)" font-size="36.09" font-weight="normal" font-style="normal" fill="#000">C</text>
<text transform="translate(770.77,547) scale(1.1690,1)" font-size="34.3" font-weight="normal" font-style="italic" fill="#000">t</text>
<text transform="translate(791.67,554.9) scale(0.9571,1)" font-size="21.8" font-weight="normal" font-style="italic" fill="#000" stroke="#000" stroke-width="0.45">GAPDH</text>
<text transform="translate(874.6,551.7) scale(1.1144,1)" font-size="45.54" font-weight="normal" font-style="normal" fill="#000" stroke="#fff" stroke-width="0.9">/</text>
<text transform="translate(897.4,547) scale(0.8735,1)" font-size="36.09" font-weight="normal" font-style="normal" fill="#000">C</text>
<text transform="translate(918.39,547) scale(1.1950,1)" font-size="34.3" font-weight="normal" font-style="italic" fill="#000">t</text>
<text transform="translate(939.3,554.9) scale(0.8981,1)" font-size="21.8" font-weight="normal" font-style="italic" fill="#000" stroke="#000" stroke-width="0.45">EBV</text>
<text transform="translate(746.46,1136.8) scale(0.8649,1)" font-size="35.09" font-weight="normal" font-style="normal" fill="#000">C</text>
<text transform="translate(766.67,1136.8) scale(1.1833,1)" font-size="33.35" font-weight="normal" font-style="italic" fill="#000">t</text>
<text transform="translate(786.98,1144.9) scale(0.9700,1)" font-size="21.37" font-weight="normal" font-style="italic" fill="#000" stroke="#000" stroke-width="0.45">GAPDH</text>
<text transform="translate(870.5,1141.5) scale(1.0986,1)" font-size="45.54" font-weight="normal" font-style="normal" fill="#000" stroke="#fff" stroke-width="0.9">/</text>
<text transform="translate(893.41,1136.8) scale(0.8928,1)" font-size="35.09" font-weight="normal" font-style="normal" fill="#000">C</text>
<text transform="translate(914.27,1136.8) scale(1.2215,1)" font-size="33.35" font-weight="normal" font-style="italic" fill="#000">t</text>
<text transform="translate(934.97,1144.9) scale(0.8996,1)" font-size="21.37" font-weight="normal" font-style="italic" fill="#000" stroke="#000" stroke-width="0.45">TCRγ</text>
<text transform="translate(796.67,1699.2) scale(0.9064,1)" font-size="35.9" font-weight="normal" font-style="normal" fill="#000">T</text>
<text transform="translate(816.2,1707.5) scale(1.1093,1)" font-size="21.74" font-weight="normal" font-style="normal" fill="#000">m</text>
<text transform="translate(846.26,1699.2) scale(0.7876,1)" font-size="35.9" font-weight="normal" font-style="italic" fill="#000">TCR</text>
<text transform="translate(905.37,1703.5) scale(1.1263,1)" font-size="17.25" font-weight="normal" font-style="italic" fill="#000">β</text>
<rect x="167.8" y="1746.8" width="25" height="24" fill="#d40000" stroke="#222" stroke-width="1.2"/>
<text transform="translate(203.86,1769.5) scale(1.0213,1)" font-size="29.07" font-weight="normal" font-style="normal" fill="#000">Blood DNA samples (EFS and SU.VI.MAX)</text>
<rect x="841.1" y="1747" width="24.5" height="23.3" fill="#00d400" stroke="#222" stroke-width="1.2"/>
<text transform="translate(877.25,1769.5) scale(1.0260,1)" font-size="29.07" font-weight="normal" font-style="normal" fill="#000">LCL DNA samples (CEPH reference families)</text>
<line x1="41.5" y1="560" x2="41.5" y2="1720" stroke="#fff" stroke-opacity="0.85" stroke-width="0.9"/>
</g></svg>
</body></html>
